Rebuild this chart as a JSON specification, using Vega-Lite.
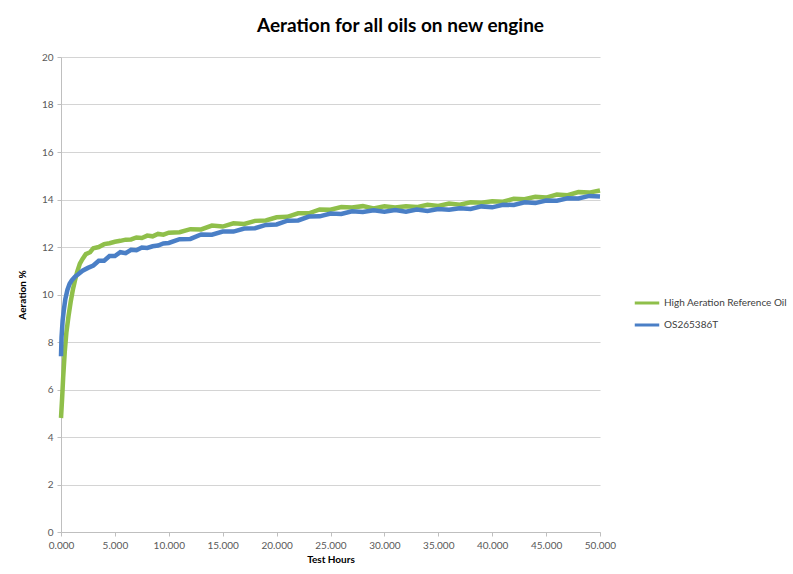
{
  "$schema": "https://vega.github.io/schema/vega-lite/v6.json",
  "width": 539,
  "height": 475,
  "autosize": {"type": "none"},
  "padding": {"left": 61, "top": 57, "right": 193, "bottom": 42},
  "background": "white",
  "title": {
    "text": "Aeration for all oils on new engine",
    "font": "Lato",
    "fontSize": 19,
    "fontWeight": "bold",
    "color": "#000000",
    "anchor": "middle",
    "dx": 70,
    "offset": 16
  },
  "datasets": {
    "g": [
      {"t": 0, "a": 4.8}, {"t": 0.1, "a": 5.6}, {"t": 0.2, "a": 6.5}, {"t": 0.35, "a": 7.6}, {"t": 0.5, "a": 8.4},
      {"t": 0.7, "a": 9.1}, {"t": 0.9, "a": 9.7}, {"t": 1.1, "a": 10.2}, {"t": 1.3, "a": 10.6}, {"t": 1.5, "a": 10.95},
      {"t": 1.75, "a": 11.3}, {"t": 2.0, "a": 11.5}, {"t": 2.3, "a": 11.7}, {"t": 2.7, "a": 11.78}, {"t": 3.0, "a": 11.95},
      {"t": 3.5, "a": 12.0}, {"t": 4.0, "a": 12.12}, {"t": 4.5, "a": 12.16}, {"t": 5.0, "a": 12.22}, {"t": 5.5, "a": 12.26},
      {"t": 6.0, "a": 12.31}, {"t": 6.5, "a": 12.32}, {"t": 7.0, "a": 12.4}, {"t": 7.5, "a": 12.38}, {"t": 8.0, "a": 12.48},
      {"t": 8.5, "a": 12.45}, {"t": 9.0, "a": 12.55}, {"t": 9.5, "a": 12.52}, {"t": 10, "a": 12.6}, {"t": 11, "a": 12.62},
      {"t": 12, "a": 12.75}, {"t": 13, "a": 12.74}, {"t": 14, "a": 12.9}, {"t": 15, "a": 12.86}, {"t": 16, "a": 13.0},
      {"t": 17, "a": 12.97}, {"t": 18, "a": 13.1}, {"t": 19, "a": 13.12}, {"t": 20, "a": 13.25}, {"t": 21, "a": 13.27},
      {"t": 22, "a": 13.42}, {"t": 23, "a": 13.42}, {"t": 24, "a": 13.58}, {"t": 25, "a": 13.57}, {"t": 26, "a": 13.68},
      {"t": 27, "a": 13.66}, {"t": 28, "a": 13.72}, {"t": 29, "a": 13.62}, {"t": 30, "a": 13.71}, {"t": 31, "a": 13.66},
      {"t": 32, "a": 13.72}, {"t": 33, "a": 13.68}, {"t": 34, "a": 13.78}, {"t": 35, "a": 13.73}, {"t": 36, "a": 13.83},
      {"t": 37, "a": 13.78}, {"t": 38, "a": 13.88}, {"t": 39, "a": 13.86}, {"t": 40, "a": 13.93}, {"t": 41, "a": 13.91},
      {"t": 42, "a": 14.03}, {"t": 43, "a": 14.01}, {"t": 44, "a": 14.11}, {"t": 45, "a": 14.08}, {"t": 46, "a": 14.21},
      {"t": 47, "a": 14.18}, {"t": 48, "a": 14.31}, {"t": 49, "a": 14.29}, {"t": 50, "a": 14.38}
    ],
    "b": [
      {"t": 0, "a": 7.4}, {"t": 0.05, "a": 8.2}, {"t": 0.15, "a": 8.9}, {"t": 0.25, "a": 9.3}, {"t": 0.4, "a": 9.8},
      {"t": 0.6, "a": 10.2}, {"t": 0.8, "a": 10.45}, {"t": 1.0, "a": 10.6}, {"t": 1.3, "a": 10.75}, {"t": 1.6, "a": 10.85},
      {"t": 2.0, "a": 11.0}, {"t": 2.5, "a": 11.12}, {"t": 3.0, "a": 11.22}, {"t": 3.5, "a": 11.42}, {"t": 4.0, "a": 11.42},
      {"t": 4.5, "a": 11.62}, {"t": 5.0, "a": 11.62}, {"t": 5.5, "a": 11.78}, {"t": 6.0, "a": 11.74}, {"t": 6.5, "a": 11.88},
      {"t": 7.0, "a": 11.86}, {"t": 7.5, "a": 11.98}, {"t": 8.0, "a": 11.96}, {"t": 8.5, "a": 12.03}, {"t": 9.0, "a": 12.06},
      {"t": 9.5, "a": 12.15}, {"t": 10, "a": 12.17}, {"t": 11, "a": 12.33}, {"t": 12, "a": 12.34}, {"t": 13, "a": 12.53},
      {"t": 14, "a": 12.52}, {"t": 15, "a": 12.65}, {"t": 16, "a": 12.65}, {"t": 17, "a": 12.78}, {"t": 18, "a": 12.79},
      {"t": 19, "a": 12.93}, {"t": 20, "a": 12.95}, {"t": 21, "a": 13.11}, {"t": 22, "a": 13.12}, {"t": 23, "a": 13.28},
      {"t": 24, "a": 13.29}, {"t": 25, "a": 13.41}, {"t": 26, "a": 13.39}, {"t": 27, "a": 13.5}, {"t": 28, "a": 13.47},
      {"t": 29, "a": 13.55}, {"t": 30, "a": 13.49}, {"t": 31, "a": 13.56}, {"t": 32, "a": 13.49}, {"t": 33, "a": 13.58},
      {"t": 34, "a": 13.52}, {"t": 35, "a": 13.6}, {"t": 36, "a": 13.57}, {"t": 37, "a": 13.63}, {"t": 38, "a": 13.6},
      {"t": 39, "a": 13.71}, {"t": 40, "a": 13.67}, {"t": 41, "a": 13.78}, {"t": 42, "a": 13.77}, {"t": 43, "a": 13.88},
      {"t": 44, "a": 13.85}, {"t": 45, "a": 13.96}, {"t": 46, "a": 13.95}, {"t": 47, "a": 14.05}, {"t": 48, "a": 14.04},
      {"t": 49, "a": 14.15}, {"t": 50, "a": 14.13}
    ]
  },
  "encoding": {
    "x": {
      "field": "t",
      "type": "quantitative",
      "scale": {"domain": [0, 50], "nice": false},
      "axis": {
        "title": "Test Hours",
        "values": [0, 5, 10, 15, 20, 25, 30, 35, 40, 45, 50],
        "format": ".3f",
        "grid": false,
        "labelFlush": false,
        "labelOverlap": false,
        "titlePadding": 4
      }
    },
    "y": {
      "field": "a",
      "type": "quantitative",
      "scale": {"domain": [0, 20], "nice": false},
      "axis": {
        "title": "Aeration %",
        "values": [0, 2, 4, 6, 8, 10, 12, 14, 16, 18, 20],
        "grid": true,
        "labelFlush": false,
        "titlePadding": 14
      }
    }
  },
  "layer": [
    {
      "data": {"name": "g"},
      "mark": {"type": "line", "strokeWidth": 4.5, "interpolate": "linear"},
      "encoding": {"color": {"datum": "High Aeration Reference Oil"}}
    },
    {
      "data": {"name": "b"},
      "mark": {"type": "line", "strokeWidth": 4.5, "interpolate": "linear"},
      "encoding": {"color": {"datum": "OS265386T"}}
    }
  ],
  "resolve": {"scale": {"color": "shared"}},
  "config": {
    "font": "Lato",
    "view": {"stroke": null},
    "range": {"category": ["#8fbf4a", "#4a7fc6"]},
    "axis": {
      "labelFont": "Lato",
      "labelFontSize": 10,
      "labelColor": "#595959",
      "titleFont": "Lato",
      "titleFontSize": 10,
      "titleFontWeight": "bold",
      "titleColor": "#000000",
      "domainColor": "#bfbfbf",
      "domainWidth": 1,
      "gridColor": "#d4d4d4",
      "gridWidth": 1.2,
      "tickColor": "#bfbfbf",
      "tickSize": 4,
      "labelPadding": 4
    },
    "legend": {
      "orient": "none",
      "legendX": 572,
      "legendY": 232,
      "title": null,
      "symbolType": "stroke",
      "symbolSize": 600,
      "symbolStrokeWidth": 3,
      "labelFont": "Lato",
      "labelFontSize": 10,
      "labelColor": "#404040",
      "rowPadding": 2,
      "labelOffset": 3
    }
  }
}
